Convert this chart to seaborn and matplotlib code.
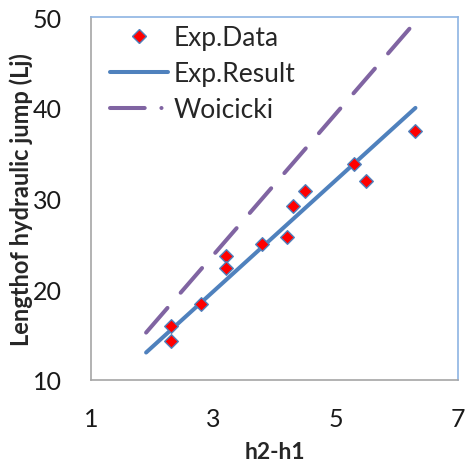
import matplotlib
matplotlib.use("Agg")
import matplotlib.pyplot as plt
from matplotlib.lines import Line2D
import seaborn as sns
import pandas as pd

# Measured jump lengths
h_diff = [2.3, 2.3, 2.8, 3.2, 3.2, 3.8, 4.2, 4.3, 4.5, 5.3, 5.5, 6.3]
jump_len = [15.9, 14.3, 18.4, 23.7, 22.3, 25.0, 25.8, 29.2, 30.8, 33.8, 31.9, 37.4]

# Fitted relation and Woicicki's formula, evaluated at the range ends
line_x = [1.9, 6.3]
fit_y = [13.0, 40.0]
woicicki_y = [15.2, 49.5]

x_ticks = [1, 3, 5, 7]
y_ticks = [10, 20, 30, 40, 50]

BLUE = "#4F81BD"
PURPLE = "#8064A2"
FONT = ["Lato", "DejaVu Sans"]

sns.set_style("white")
plt.rcParams["font.family"] = FONT
plt.rcParams["lines.scale_dashes"] = False

fig = plt.figure(figsize=(4.65, 4.64), dpi=100)
ax = fig.add_axes([91 / 465, 1 - 380.7 / 464, 367.3 / 465, 362.4 / 464])

pts = pd.DataFrame({"x": h_diff, "y": jump_len})
lines = pd.DataFrame({"x": line_x, "fit": fit_y, "woi": woicicki_y})

sns.lineplot(data=lines, x="x", y="woi", ax=ax, color=PURPLE, lw=2.9,
             dashes=False, solid_capstyle="round", zorder=2)
woi_line = ax.lines[-1]
woi_line.set_dashes((23.5, 14.5))
woi_line.set_dash_capstyle("round")

sns.lineplot(data=lines, x="x", y="fit", ax=ax, color=BLUE, lw=2.9,
             solid_capstyle="round", zorder=3)

sns.scatterplot(data=pts, x="x", y="y", ax=ax, marker="D", s=48,
                color="#FF0000", edgecolor=BLUE, linewidth=1.0, zorder=4)

ax.set_xlim(1, 7)
ax.set_ylim(10, 50)
ax.set_xticks(x_ticks)
ax.set_yticks(y_ticks)
ax.tick_params(axis="both", direction="out", length=8, width=1.0,
               color="#A6A6A6", labelsize=18, labelcolor="#1a1a1a")
ax.tick_params(axis="y", pad=13)
ax.tick_params(axis="x", pad=12)

for side in ("left", "bottom"):
    ax.spines[side].set_color("#A6A6A6")
    ax.spines[side].set_linewidth(1.2)
for side in ("top", "right"):
    ax.spines[side].set_visible(True)
    ax.spines[side].set_color("#8EB4E3")
    ax.spines[side].set_linewidth(1.2)

ax.set_xlabel("h2-h1", fontsize=16.5, fontweight="bold", va="center")
ax.set_ylabel("Lengthof hydraulic jump (Lj)", fontsize=17,
              fontweight="bold", va="center")
ax.xaxis.set_label_coords(0.5, -0.197)
ax.yaxis.set_label_coords(-0.19, 0.5)

h_data = Line2D([], [], ls="none", marker="D", ms=7.0,
                mfc="#FF0000", mec=BLUE, mew=1.0)
h_fit = Line2D([], [], color=BLUE, lw=2.9, solid_capstyle="round")
h_woi = Line2D([], [], color=PURPLE, lw=2.9, dash_capstyle="round",
               dashes=(25.0, 12.0, 0.1, 30.0))
ax.legend([h_data, h_fit, h_woi], ["Exp.Data", "Exp.Result", "Woicicki"],
          loc="upper left", bbox_to_anchor=(110 / 465, 1 - 26 / 464),
          bbox_transform=fig.transFigure, frameon=False, fontsize=19,
          borderpad=0, borderaxespad=0, handlelength=2.2,
          handletextpad=0.2, labelspacing=0.42)

fig.savefig("out.png", dpi=100)
